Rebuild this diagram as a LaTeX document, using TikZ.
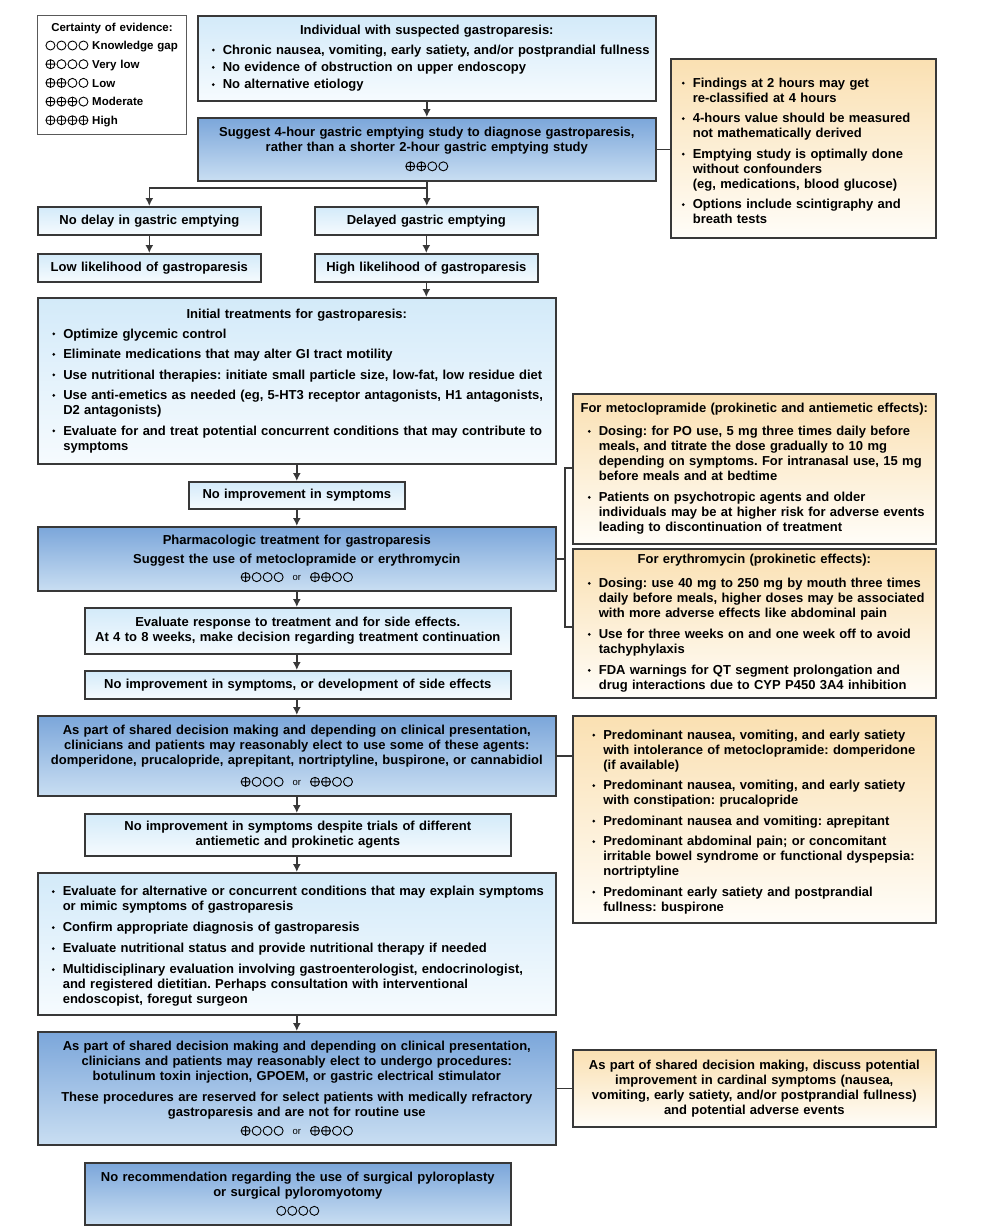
\documentclass[tikz,border=0pt]{standalone}
\usepackage{fontspec}
\setmainfont{Liberation Sans}
\usetikzlibrary{arrows.meta}
\frenchspacing
\definecolor{bordc}{HTML}{383838}
\definecolor{ltop}{HTML}{D3EAF9}
\definecolor{lbot}{HTML}{F6FBFE}
\definecolor{dtop}{HTML}{7BA6DA}
\definecolor{dbot}{HTML}{C9DEF2}
\definecolor{ytop}{HTML}{FAE0B2}
\definecolor{ybot}{HTML}{FFFDF8}
\newcommand\evp{\tikz[x=1pt,y=1pt,baseline=-4.4pt]{\draw[line width=0.9pt,black] (0,0) circle (4.5) (-4.5,0)--(4.5,0) (0,-4.5)--(0,4.5);}}
\newcommand\evo{\tikz[x=1pt,y=1pt,baseline=-4.4pt]{\draw[line width=0.9pt,black] (0,0) circle (4.5);}}
\newcommand\evk{\kern1.1pt}
\newcommand\evor{\hspace{9pt}{\fontsize{9.5}{10}\selectfont\mdseries\raisebox{1pt}{or}}\hspace{9pt}}
\newcommand\bul{\tikz[x=1pt,y=1pt,baseline=-4.3pt]{\fill[black] (0,0) circle (1.5);}}
\newenvironment{bl}[2]{\frenchspacing\begin{list}{\bul}{\setlength{\leftmargin}{#1}\setlength{\labelwidth}{3pt}\setlength{\labelsep}{8pt}\setlength{\itemsep}{#2}\setlength{\parsep}{0pt}\setlength{\topsep}{0pt}\setlength{\partopsep}{0pt}\setlength{\itemindent}{0pt}\setlength{\listparindent}{0pt}}}{\end{list}}
\begin{document}
\begin{tikzpicture}[x=1pt,y=1pt,
  box/.style={draw=bordc, line width=1.6pt, inner xsep=5pt, inner ysep=1pt, anchor=north west,
    font=\fontsize{13}{15}\selectfont\bfseries\frenchspacing},
  lt/.style={box, top color=ltop, bottom color=lbot},
  dk/.style={box, top color=dtop, bottom color=dbot},
  yl/.style={box, top color=ytop, bottom color=ybot},
  conn/.style={draw=bordc, line width=1.6pt},
  arr/.style={conn, -{Latex[length=8pt,width=8pt]}}]
\useasboundingbox (0,0) rectangle (1004,-1226);
\fill[white] (0,0) rectangle (1004,-1226);

% legend
\node[draw=black!65, line width=1pt, fill=white, anchor=north west, inner xsep=8pt, inner ysep=1pt,
  minimum width=149pt, minimum height=119pt, text width=133pt, align=left,
  font=\fontsize{11.5}{18.7}\selectfont\bfseries] (leg) at (37,-15)
  {\makebox[133pt][c]{Certainty of evidence:}\\
   \evo\evk\evo\evk\evo\evk\evo\ Knowledge gap\\
   \evp\evk\evo\evk\evo\evk\evo\ Very low\\
   \evp\evk\evp\evk\evo\evk\evo\ Low\\
   \evp\evk\evp\evk\evp\evk\evo\ Moderate\\
   \evp\evk\evp\evk\evp\evk\evp\ High};

% main column
\node[lt, minimum width=458pt, minimum height=85pt, text width=448pt, align=left] (b1) at (197,-15)
  {{\centering Individual with suspected gastroparesis:\par}\vspace{5pt}
   \begin{bl}{20pt}{2.3pt}
   \item Chronic nausea, vomiting, early satiety, and/or postprandial fullness
   \item No evidence of obstruction on upper endoscopy
   \item No alternative etiology
   \end{bl}};
\node[dk, minimum width=458pt, minimum height=63pt, text width=448pt, align=center] (b2) at (197,-117)
  {Suggest 4-hour gastric emptying study to diagnose gastroparesis,\\
   rather than a shorter 2-hour gastric emptying study\\[4pt]
   \evp\evk\evp\evk\evo\evk\evo};
\node[yl, minimum width=265pt, minimum height=179pt, text width=255pt, align=left] (sa) at (670,-58)
  {\begin{bl}{17pt}{5.5pt}
   \item Findings at 2 hours may get\\ re-classified at 4 hours
   \item 4-hours value should be measured\\ not mathematically derived
   \item Emptying study is optimally done\\ without confounders\\ (eg, medications, blood glucose)
   \item Options include scintigraphy and\\ breath tests
   \end{bl}};

\node[lt, minimum width=223pt, minimum height=28pt, text width=213pt, align=center] (nd) at (37,-206) {No delay in gastric emptying};
\node[lt, minimum width=223pt, minimum height=28pt, text width=213pt, align=center] (ll) at (37,-253) {Low likelihood of gastroparesis};
\node[lt, minimum width=223pt, minimum height=28pt, text width=213pt, align=center] (dl) at (314,-206) {Delayed gastric emptying};
\node[lt, minimum width=223pt, minimum height=28pt, text width=213pt, align=center] (hl) at (314,-253) {High likelihood of gastroparesis};

\node[lt, minimum width=518pt, minimum height=166pt, text width=508pt, align=left] (init) at (37,-297)
  {{\centering Initial treatments for gastroparesis:\par}\vspace{5pt}
   \begin{bl}{20.5pt}{5.5pt}
   \item Optimize glycemic control
   \item Eliminate medications that may alter GI tract motility
   \item Use nutritional therapies: initiate small particle size, low-fat, low residue diet
   \item Use anti-emetics as needed (eg, 5-HT3 receptor antagonists, H1 antagonists,\\ D2 antagonists)
   \item Evaluate for and treat potential concurrent conditions that may contribute to\\ symptoms
   \end{bl}};
\node[lt, minimum width=216pt, minimum height=27pt, text width=206pt, align=center] (ni1) at (188,-481) {No improvement in symptoms};
\node[dk, minimum width=518pt, minimum height=64pt, text width=508pt, align=center] (ph) at (37,-526)
  {Pharmacologic treatment for gastroparesis\\[3.3pt]
   Suggest the use of metoclopramide or erythromycin\\[3.3pt]
   \evp\evk\evo\evk\evo\evk\evo\evor\evp\evk\evp\evk\evo\evk\evo};
\node[lt, minimum width=426pt, minimum height=46pt, text width=416pt, align=center] (er) at (84,-607)
  {Evaluate response to treatment and for side effects.\\
   At 4 to 8 weeks, make decision regarding treatment continuation};
\node[lt, minimum width=426pt, minimum height=28pt, text width=416pt, align=center] (ni2) at (84,-670)
  {No improvement in symptoms, or development of side effects};
\node[dk, minimum width=518pt, minimum height=80pt, text width=508pt, align=center] (sd1) at (37,-715)
  {As part of shared decision making and depending on clinical presentation,\\
   clinicians and patients may reasonably elect to use some of these agents:\\
   domperidone, prucalopride, aprepitant, nortriptyline, buspirone, or cannabidiol\\[7pt]
   \evp\evk\evo\evk\evo\evk\evo\evor\evp\evk\evp\evk\evo\evk\evo};
\node[lt, minimum width=426pt, minimum height=42pt, text width=416pt, align=center] (nid) at (84,-813)
  {No improvement in symptoms despite trials of different\\ antiemetic and prokinetic agents};
\node[lt, minimum width=518pt, minimum height=142pt, text width=508pt, align=left] (ea) at (37,-872)
  {\begin{bl}{20pt}{6pt}
   \item Evaluate for alternative or concurrent conditions that may explain symptoms\\ or mimic symptoms of gastroparesis
   \item Confirm appropriate diagnosis of gastroparesis
   \item Evaluate nutritional status and provide nutritional therapy if needed
   \item Multidisciplinary evaluation involving gastroenterologist, endocrinologist,\\ and registered dietitian. Perhaps consultation with interventional\\ endoscopist, foregut surgeon
   \end{bl}};
\node[dk, minimum width=518pt, minimum height=113pt, text width=508pt, align=center] (sd2) at (37,-1031)
  {As part of shared decision making and depending on clinical presentation,\\
   clinicians and patients may reasonably elect to undergo procedures:\\
   botulinum toxin injection, GPOEM, or gastric electrical stimulator\\[6pt]
   These procedures are reserved for select patients with medically refractory\\
   gastroparesis and are not for routine use\\[4pt]
   \evp\evk\evo\evk\evo\evk\evo\evor\evp\evk\evp\evk\evo\evk\evo};
\node[dk, minimum width=426pt, minimum height=62pt, text width=416pt, align=center] (nr) at (84,-1162)
  {No recommendation regarding the use of surgical pyloroplasty\\
   or surgical pyloromyotomy\\[4pt]
   \evo\evk\evo\evk\evo\evk\evo};

% side boxes
\node[yl, minimum width=363pt, minimum height=150pt, text width=353pt, align=left] (meto) at (572,-393)
  {{\centering For metoclopramide (prokinetic and antiemetic effects):\par}\vspace{8pt}
   \begin{bl}{21pt}{6pt}
   \item Dosing: for PO use, 5 mg three times daily before\\ meals, and titrate the dose gradually to 10 mg\\ depending on symptoms. For intranasal use, 15 mg\\ before meals and at bedtime
   \item Patients on psychotropic agents and older\\ individuals may be at higher risk for adverse events\\ leading to discontinuation of treatment
   \end{bl}};
\node[yl, minimum width=363pt, minimum height=149pt, text width=353pt, align=left] (ery) at (572,-548)
  {{\centering For erythromycin (prokinetic effects):\par}\vspace{9pt}
   \begin{bl}{21pt}{6pt}
   \item Dosing: use 40 mg to 250 mg by mouth three times\\ daily before meals, higher doses may be associated\\ with more adverse effects like abdominal pain
   \item Use for three weeks on and one week off to avoid\\ tachyphylaxis
   \item FDA warnings for QT segment prolongation and\\ drug interactions due to CYP P450 3A4 inhibition
   \end{bl}};
\node[yl, minimum width=363pt, minimum height=207pt, text width=353pt, align=left] (pred) at (572,-715)
  {\begin{bl}{25.5pt}{5.5pt}
   \item Predominant nausea, vomiting, and early satiety\\ with intolerance of metoclopramide: domperidone\\ (if available)
   \item Predominant nausea, vomiting, and early satiety\\ with constipation: prucalopride
   \item Predominant nausea and vomiting: aprepitant
   \item Predominant abdominal pain; or concomitant\\ irritable bowel syndrome or functional dyspepsia:\\ nortriptyline
   \item Predominant early satiety and postprandial\\ fullness: buspirone
   \end{bl}};
\node[yl, minimum width=363pt, minimum height=77pt, text width=353pt, align=center] (fin) at (572,-1049)
  {As part of shared decision making, discuss potential\\
   improvement in cardinal symptoms (nausea,\\
   vomiting, early satiety, and/or postprandial fullness)\\
   and potential adverse events};

% connectors
\coordinate (j1) at (426,-188);
\coordinate (bt) at (565,-468);
\coordinate (bb) at (565,-627);
\draw[arr] (b1.south) -- (b1.south |- b2.north);
\draw[arr] (b2.south) -- (b2.south |- dl.north);
\draw[arr] (j1) -| (nd.north);
\draw[arr] (nd.south) -- (ll.north);
\draw[arr] (dl.south) -- (hl.north);
\draw[arr] (hl.south) -- (hl.south |- init.north);
\draw[arr] (init.south) -- (init.south |- ni1.north);
\draw[arr] (ni1.south) -- (ni1.south |- ph.north);
\draw[arr] (ph.south) -- (ph.south |- er.north);
\draw[arr] (ph.south |- er.south) -- (ph.south |- ni2.north);
\draw[arr] (ph.south |- ni2.south) -- (ph.south |- sd1.north);
\draw[arr] (sd1.south) -- (sd1.south |- nid.north);
\draw[arr] (sd1.south |- nid.south) -- (sd1.south |- ea.north);
\draw[arr] (ea.south) -- (sd2.north);
\draw[conn] (b2.east) -- (b2.east -| sa.west);
\draw[conn] (meto.west |- bt) -- (bt) -- (bb) -- (ery.west |- bb);
\draw[conn] (ph.east) -- (ph.east -| bt);
\draw[conn] (sd1.east) -- (sd1.east -| pred.west);
\draw[conn] (sd2.east) -- (sd2.east -| fin.west);
\end{tikzpicture}
\end{document}
